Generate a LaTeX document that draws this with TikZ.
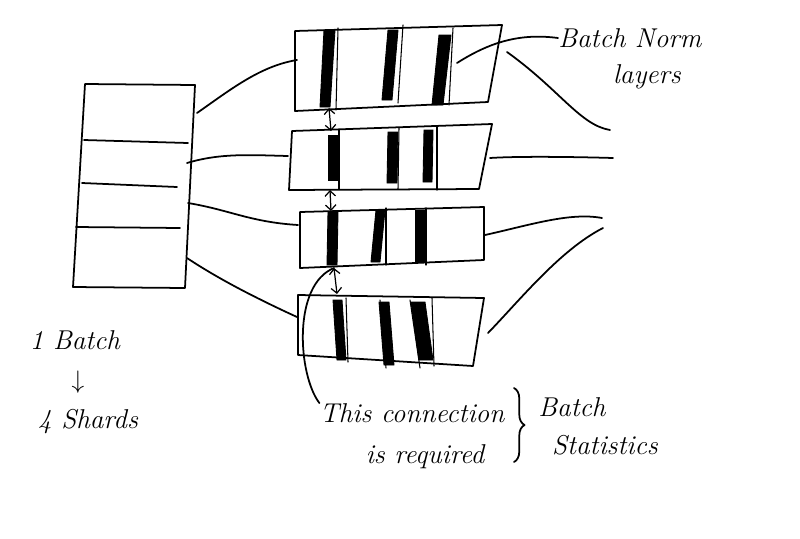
\documentclass[tikz,border=0pt]{standalone}
\usepackage{tikz}
\usetikzlibrary{arrows.meta,decorations.pathreplacing}

\tikzset{
  pen/.style={line width=1pt, line cap=round, line join=round},
  bnbar/.style={fill=black, draw=black, line width=0.5pt},
  thin/.style={line width=0.6pt, line cap=round},
  sync/.style={line width=0.7pt, {Straight Barb[length=3pt]}-{Straight Barb[length=3pt]}},
  hand/.style={font=\fontsize{15.5}{17}\selectfont\itshape, inner sep=0pt},
}

\begin{document}
\begin{tikzpicture}[x=0.02cm, y=-0.02cm]
        \useasboundingbox (0,0) rectangle (800,538);

        % Input batch, cut into shards
        \draw[pen] (85,84) -- (195,85) -- (185,288) -- (73,287) -- cycle;
        \draw[pen] (84,140) -- (188,143);
        \draw[pen] (82,183) -- (177,187);
        \draw[pen] (76,227) -- (180,228);

        % Model replicas
        \draw[pen] (295,31) -- (502,25) -- (488,102) -- (295,111) -- cycle;
        \draw[pen] (292,131) -- (492,124) -- (479,189) -- (289,190) -- cycle;
        \draw[pen] (300,212) -- (484,207) -- (484,260) -- (300,268) -- cycle;
        \draw[pen] (298,295) -- (484,298) -- (473,366) -- (298,355) -- cycle;

        % Batch norm layers
        \foreach \xa/\xb/\ya/\xc/\xd/\yb in {
            324/335/30/320/330/107, 388/398/30/382/392/100, 439/451/35/432/443/105,
            328/337/135/328/337/180, 388/398/132/387/397/183, 424/433/130/423/432/182,
            328/338/212/327/337/265, 376/385/210/371/380/262, 415/424/210/415/424/262,
            333/342/300/337/346/360, 379/389/302/384/394/365, 411/425/302/419/433/360}
            \fill[bnbar] (\xa,\ya) -- (\xb,\ya) -- (\xd,\yb) -- (\xc,\yb) -- cycle;
        \foreach \xa/\ya/\xb/\yb in {
            338/28/336/110, 403/25/398/103, 453/28/449/105,
            339/130/339/189, 399/128/398/189, 437/126/437/190,
            386/208/386/265, 426/208/426/265,
            346/298/348/362, 380/300/386/368, 410/300/420/368, 432/298/434/366}
            \draw[thin] (\xa,\ya) -- (\xb,\yb);

        % Statistics exchanged between replicas
        \coordinate (s1b) at (329,108);
        \coordinate (s2t) at (331,131);
        \coordinate (s2b) at (330,190);
        \coordinate (s3t) at (331,211);
        \coordinate (s3b) at (334,268);
        \coordinate (s4t) at (337,294);
        \draw[sync] (s1b) -- (s2t);
        \draw[sync] (s2b) -- (s3t);
        \draw[sync] (s3b) -- (s4t);

        % Shards to replicas
        \coordinate (b1) at (197,113);
        \coordinate (b2) at (187,163);
        \coordinate (b3) at (188,203);
        \coordinate (b4) at (187,258);
        \coordinate (r1) at (297,60);
        \coordinate (r2) at (288,156);
        \coordinate (r3) at (298,225);
        \coordinate (r4) at (297,317);
        \draw[pen] (b1) .. controls (230,90) and (260,66) .. (r1);
        \draw[pen] (b2) .. controls (220,153) and (250,155) .. (r2);
        \draw[pen] (b3) .. controls (230,210) and (250,222) .. (r3);
        \draw[pen] (b4) .. controls (220,280) and (260,300) .. (r4);

        % Outputs
        \coordinate (o1) at (507,52);
        \coordinate (o2) at (490,158);
        \coordinate (o3) at (485,235);
        \coordinate (o4) at (488,333);
        \coordinate (e1) at (610,130);
        \coordinate (e2) at (613,158);
        \coordinate (e3) at (602,218);
        \coordinate (e4) at (603,228);
        \draw[pen] (o1) .. controls (560,90) and (580,125) .. (e1);
        \draw[pen] (o2) .. controls (520,156) and (580,157) .. (e2);
        \draw[pen] (o3) .. controls (530,225) and (570,212) .. (e3);
        \draw[pen] (o4) .. controls (520,300) and (560,250) .. (e4);

        % Labels
        \node[hand, anchor=west] (bnlbl) at (558,38) {Batch Norm};
        \node[hand] (bnlbl2) at (647,77) {layers};
        \coordinate (bnp) at (457,63);
        \draw[pen] (bnp) .. controls (490,42) and (520,33) .. (bnlbl.west);

        \node[hand] (batch) at (75,340) {1 Batch};
        \node[hand] (down) at (78,382) {$\downarrow$};
        \node[hand] (shards) at (88,422) {4 Shards};

        \node[hand] (conn) at (412,413) {This connection};
        \node[hand] (req) at (425,457) {is required};
        \draw[pen] (conn.north west) .. controls (298,375) and (292,285) .. (s3b);
        \draw[pen, decorate, decoration={brace, amplitude=6pt}] (514,388) -- (514,462);
        \node[hand] (bstat) at (572,407) {Batch};
        \node[hand] (stat) at (605,445) {Statistics};
\end{tikzpicture}
\end{document}
